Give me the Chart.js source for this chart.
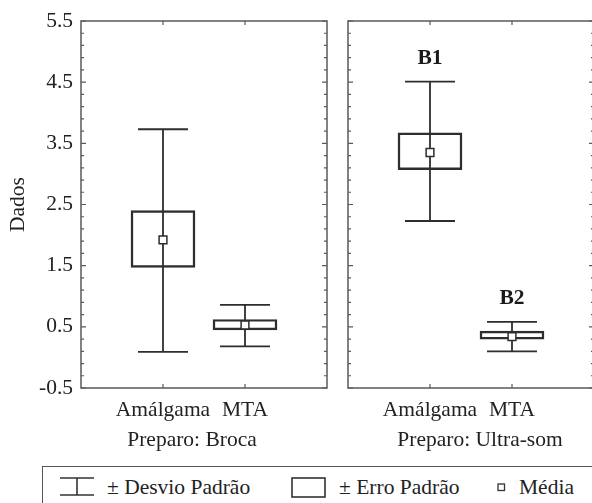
<!DOCTYPE html>
<html>
<head>
<meta charset="utf-8">
<script src="https://cdn.jsdelivr.net/npm/chart.js@4.4.0/dist/chart.umd.min.js"></script>
<style>
  body { margin: 0; background: #fff; width: 592px; height: 503px; overflow: hidden; position: relative;
         font-family: "Liberation Serif", Tinos, "Times New Roman", "DejaVu Serif", serif; color: #222; }
  #leftBox { position: absolute; left: 0; top: 0; width: 335px; height: 455px; }
  #rightBox { position: absolute; left: 335px; top: 0; width: 270px; height: 455px; }
  .ptitle { position: absolute; top: 426px; font-size: 21.5px; line-height: 26px; white-space: nowrap; transform: translateX(-50%); }
  #legend { position: absolute; left: 42px; top: 466px; width: 620px; height: 60px; border: 1.5px solid #555; }
  .ltext { position: absolute; top: 474px; font-size: 21.5px; line-height: 26px; white-space: nowrap; }
  svg { position: absolute; }
</style>
</head>
<body>
<div id="leftBox"><canvas id="chartBroca"></canvas></div>
<div id="rightBox"><canvas id="chartUltra"></canvas></div>
<div class="ptitle" style="left:192px">Preparo: Broca</div>
<div class="ptitle" style="left:480px">Preparo: Ultra-som</div>

<div id="legend"></div>
<svg style="left:59px;top:476px" width="37" height="22">
  <line x1="1" y1="2" x2="35" y2="2" stroke="#333" stroke-width="1.6"/>
  <line x1="1" y1="19" x2="35" y2="19" stroke="#333" stroke-width="1.6"/>
  <line x1="18" y1="2" x2="18" y2="19" stroke="#333" stroke-width="1.6"/>
</svg>
<div class="ltext" style="left:107px">± Desvio Padrão</div>
<svg style="left:290px;top:476px" width="38" height="24">
  <rect x="2" y="2" width="33" height="19" fill="none" stroke="#333" stroke-width="1.6"/>
</svg>
<div class="ltext" style="left:339px">± Erro Padrão</div>
<svg style="left:496px;top:482px" width="11" height="11">
  <rect x="2" y="2" width="6.5" height="6.5" fill="none" stroke="#333" stroke-width="1.3"/>
</svg>
<div class="ltext" style="left:519px">Média</div>

<script>
  const categories = ['Amálgama', 'MTA'];
  const yTickValues = [-0.5, 0.5, 1.5, 2.5, 3.5, 4.5, 5.5];

  // Preparo: Broca
  const brocaMean = [1.92, 0.53];
  const brocaBoxLow = [1.47, 0.45];
  const brocaBoxHigh = [2.40, 0.62];
  const brocaSdLow = [0.09, 0.18];
  const brocaSdHigh = [3.73, 0.86];
  const brocaLetters = ['', ''];

  // Preparo: Ultra-som
  const ultraMean = [3.35, 0.34];
  const ultraBoxLow = [3.07, 0.30];
  const ultraBoxHigh = [3.67, 0.43];
  const ultraSdLow = [2.23, 0.10];
  const ultraSdHigh = [4.51, 0.58];
  const ultraLetters = ['B1', 'B2'];

  const lineColor = '#2e2e2e';
  const frameColor = '#5a5a5a';
  const serif = '"Liberation Serif", Tinos, "Times New Roman", "DejaVu Serif", serif';
  const fontSize = 21.5;

  // moldura, marcas internas, bigodes e letras
  const boxPlotPlugin = {
    id: 'boxPlot',
    beforeDatasetsDraw(chart) {
      const o = chart.options.plugins.boxPlot;
      const x = chart.scales.x, y = chart.scales.y;
      const ctx = chart.ctx;
      ctx.save();
      ctx.strokeStyle = lineColor;
      ctx.lineWidth = 1.8;
      o.sdLow.forEach((lo, i) => {
        const px = Math.round(x.getPixelForValue(i + 1));
        const yLo = y.getPixelForValue(lo);
        const yHi = y.getPixelForValue(o.sdHigh[i]);
        ctx.beginPath();
        ctx.moveTo(px, yLo); ctx.lineTo(px, yHi);
        ctx.moveTo(px - 25, yLo); ctx.lineTo(px + 25, yLo);
        ctx.moveTo(px - 25, yHi); ctx.lineTo(px + 25, yHi);
        ctx.stroke();
        if (o.letters[i]) {
          ctx.fillStyle = '#1a1a1a';
          ctx.font = 'bold ' + fontSize + 'px ' + serif;
          ctx.textAlign = 'center';
          ctx.textBaseline = 'middle';
          ctx.fillText(o.letters[i], px, yHi - 23);
        }
      });
      ctx.restore();
    },
    afterDatasetsDraw(chart) {
      const a = chart.chartArea;
      const x = chart.scales.x, y = chart.scales.y;
      const ctx = chart.ctx;
      ctx.save();
      ctx.strokeStyle = frameColor;
      ctx.lineWidth = 1.5;
      ctx.strokeRect(a.left, a.top, a.right - a.left, a.bottom - a.top);
      ctx.lineWidth = 1.2;
      ctx.beginPath();
      y.ticks.forEach((t, i) => {
        const py = y.getPixelForValue(t.value);
        const len = i % 5 === 0 ? 5 : 3;
        ctx.moveTo(a.left, py); ctx.lineTo(a.left + len, py);
        ctx.moveTo(a.right, py); ctx.lineTo(a.right - len, py);
      });
      x.ticks.forEach(t => {
        const px = x.getPixelForValue(t.value);
        ctx.moveTo(px, a.top); ctx.lineTo(px, a.top + 4);
        ctx.moveTo(px, a.bottom); ctx.lineTo(px, a.bottom - 4);
      });
      ctx.stroke();
      ctx.restore();
    }
  };

  function makeChart(id, mean, boxLow, boxHigh, sdLow, sdHigh, letters, showY) {
    return new Chart(document.getElementById(id), {
      type: 'bar',
      data: {
        datasets: [{
          type: 'scatter',
          data: mean.map((m, i) => ({ x: i + 1, y: m })),
          pointStyle: 'rect',
          pointRadius: 5.5,
          backgroundColor: '#fff',
          borderColor: lineColor,
          borderWidth: 1.5,
          order: 0
        }, {
          type: 'bar',
          data: boxLow.map((lo, i) => ({ x: i + 1, y: [lo, boxHigh[i]] })),
          backgroundColor: 'rgba(0,0,0,0)',
          borderColor: lineColor,
          borderWidth: 1.8,
          borderSkipped: false,
          barThickness: 64,
          grouped: false,
          order: 1
        }]
      },
      options: {
        responsive: true,
        maintainAspectRatio: false,
        animation: false,
        layout: { padding: { top: 21, bottom: 4, left: 0, right: showY ? 8 : 11 } },
        plugins: {
          legend: { display: false },
          tooltip: { enabled: false },
          boxPlot: { sdLow, sdHigh, letters }
        },
        scales: {
          x: {
            type: 'linear',
            min: 0,
            max: 3,
            offset: false,
            grid: { display: false, drawTicks: false, offset: false },
            border: { display: false },
            afterBuildTicks: s => { s.ticks = categories.map((c, i) => ({ value: i + 1 })); },
            afterFit: s => { s.height = 63; },
            ticks: {
              padding: 9,
              color: '#222',
              font: { family: serif, size: fontSize },
              callback: v => categories[v - 1]
            }
          },
          y: {
            min: -0.5,
            max: 5.5,
            grid: { display: false, drawTicks: false },
            border: { display: false },
            afterFit: s => { s.width = showY ? 81 : 13; },
            title: {
              display: showY,
              text: 'Dados',
              color: '#222',
              font: { family: serif, size: fontSize },
              padding: { top: 5, bottom: 0 }
            },
            ticks: {
              display: showY,
              stepSize: 0.2,
              autoSkip: false,
              padding: 8,
              color: '#222',
              font: { family: serif, size: fontSize },
              callback: (v) => {
                const hit = yTickValues.find(t => Math.abs(t - v) < 0.01);
                return hit === undefined ? '' : hit.toFixed(1);
              }
            }
          }
        }
      },
      plugins: [boxPlotPlugin]
    });
  }

  makeChart('chartBroca', brocaMean, brocaBoxLow, brocaBoxHigh, brocaSdLow, brocaSdHigh, brocaLetters, true);
  makeChart('chartUltra', ultraMean, ultraBoxLow, ultraBoxHigh, ultraSdLow, ultraSdHigh, ultraLetters, false);
</script>
</body>
</html>
